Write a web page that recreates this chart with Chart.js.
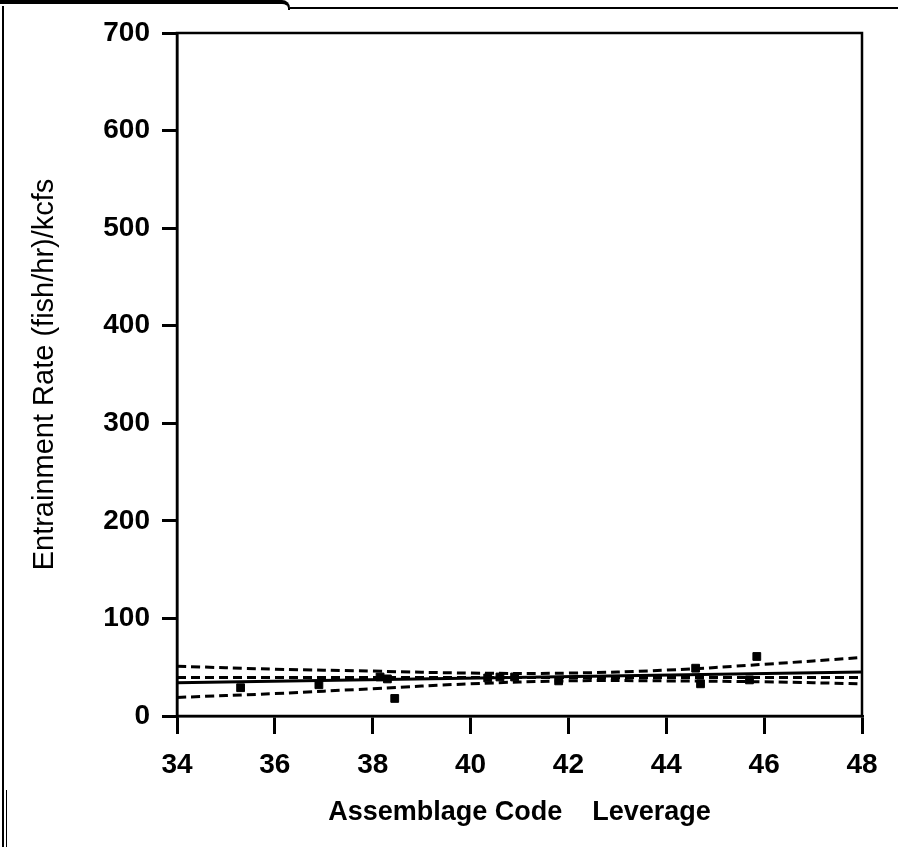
<!DOCTYPE html>
<html>
<head>
<meta charset="utf-8">
<script src="https://cdn.jsdelivr.net/npm/chart.js@4/dist/chart.umd.min.js"></script>
<style>
  html, body { margin: 0; padding: 0; background: #fff; }
  #wrap { position: relative; width: 898px; height: 847px; overflow: hidden; }
  #wrap canvas { position: absolute; left: 0; top: 0; }
  .ln { position: absolute; background: #000; }
  #tab { position: absolute; left: -4px; top: 0; width: 292px; height: 6px;
         border-top: 4px solid #000; border-right: 2px solid #000;
         border-top-right-radius: 8px; }
</style>
</head>
<body>
<div id="wrap">
  <canvas id="chart" width="898" height="847"></canvas>
  <div id="tab"></div>
  <div class="ln" style="left:290px;top:7px;width:608px;height:2px;"></div>
  <div class="ln" style="left:2px;top:6px;width:2px;height:841px;"></div>
  <div class="ln" style="left:6px;top:790px;width:1px;height:57px;"></div>
</div>
<script>
// axis ticks
var xTicks = [34, 36, 38, 40, 42, 44, 46, 48];
var yTicks = [0, 100, 200, 300, 400, 500, 600, 700];

// observed points (assemblage code leverage, entrainment rate)
var pointX = [35.3, 36.9, 38.15, 38.3, 38.45, 40.35, 40.6, 40.9, 41.8, 44.6, 44.7, 45.7, 45.85];
var pointY = [29, 32, 40, 38, 18, 39, 40, 40, 36, 49, 33, 37, 61];

// fitted line
var fitX = [34, 48];
var fitY = [34, 45];

// horizontal mean line
var meanX = [34, 48];
var meanY = [39.5, 39.5];

// confidence curves, read at the x ticks
var upperY = [51, 48, 46, 44, 44, 47, 53, 60];
var lowerY = [19, 23, 28, 33, 36, 36, 35, 33];

function pairs(xs, ys) {
    return xs.map(function (x, i) { return { x: x, y: ys[i] }; });
}

var font = 'Liberation Sans, Arial, Helvetica, sans-serif';

var framePlugin = {
    id: 'frame',
    afterDraw: function (chart) {
        var a = chart.chartArea, ctx = chart.ctx;
        ctx.save();
        ctx.strokeStyle = '#000';
        ctx.lineWidth = 2.5;
        ctx.strokeRect(a.left, a.top, a.right - a.left, a.bottom - a.top);
        ctx.restore();
    }
};

var lineStyle = { type: 'line', showLine: true, pointRadius: 0, borderColor: '#000', borderWidth: 3, fill: false };
var dash = [9, 5];

new Chart(document.getElementById('chart').getContext('2d'), {
    type: 'scatter',
    data: {
        datasets: [
            Object.assign({}, lineStyle, { data: pairs(fitX, fitY) }),
            Object.assign({}, lineStyle, { data: pairs(meanX, meanY), borderDash: dash }),
            Object.assign({}, lineStyle, { data: pairs(xTicks, upperY), borderDash: dash, tension: 0.4 }),
            Object.assign({}, lineStyle, { data: pairs(xTicks, lowerY), borderDash: dash, tension: 0.4 }),
            {
                type: 'scatter',
                data: pairs(pointX, pointY),
                pointStyle: 'rect',
                pointRadius: 5.5,
                backgroundColor: '#000',
                borderColor: '#000'
            }
        ]
    },
    options: {
        responsive: false,
        animation: false,
        layout: { padding: { left: 0, right: 36, top: 33, bottom: 14 } },
        plugins: { legend: { display: false }, tooltip: { enabled: false } },
        scales: {
            x: {
                type: 'linear', min: 34, max: 48,
                afterBuildTicks: function (s) { s.ticks = xTicks.map(function (v) { return { value: v }; }); },
                afterFit: function (s) { s.height = 117; },
                ticks: { color: '#000', font: { family: font, size: 28, weight: 'bold' }, padding: 14, maxRotation: 0 },
                grid: { drawOnChartArea: false, drawTicks: true, tickLength: 18, color: '#000', lineWidth: 3 },
                border: { display: true, color: '#000', width: 2.5 },
                title: { display: true, text: 'Assemblage Code    Leverage', color: '#000',
                         font: { family: font, size: 27, weight: 'bold' }, padding: { top: 0 } }
            },
            y: {
                type: 'linear', min: 0, max: 700,
                afterBuildTicks: function (s) { s.ticks = yTicks.map(function (v) { return { value: v }; }); },
                afterFit: function (s) { s.width = 177; },
                ticks: { color: '#000', font: { family: font, size: 28, weight: 'bold' }, padding: 12 },
                grid: { drawOnChartArea: false, drawTicks: true, tickLength: 15, color: '#000', lineWidth: 3 },
                border: { display: true, color: '#000', width: 2.5 },
                title: { display: true, text: 'Entrainment Rate (fish/hr)/kcfs', color: '#000',
                         font: { family: font, size: 29 }, padding: { top: 28, bottom: 0 } }
            }
        }
    },
    plugins: [framePlugin]
});
</script>
</body>
</html>
